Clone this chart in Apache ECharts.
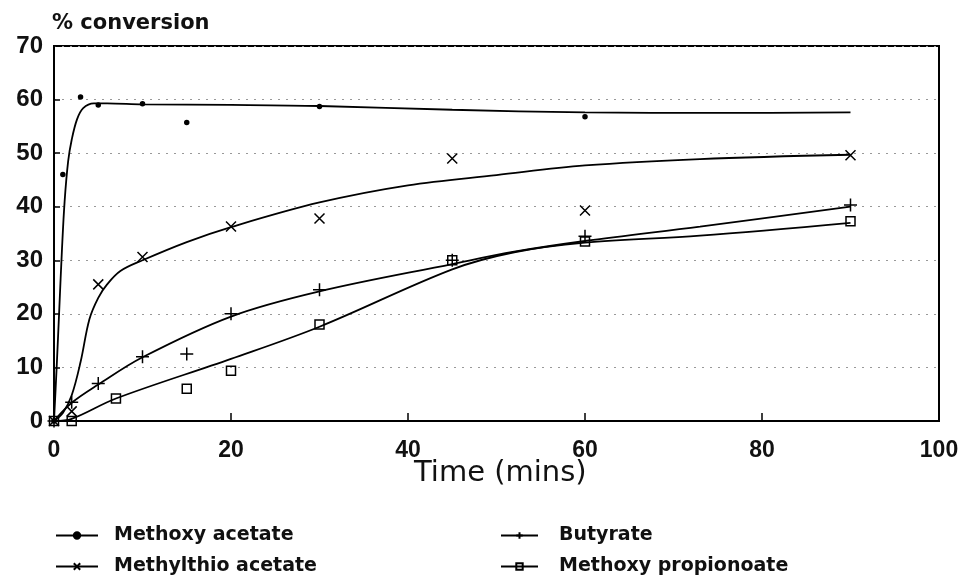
<!DOCTYPE html>
<html>
<head>
<meta charset="utf-8">
<script src="https://cdn.jsdelivr.net/npm/echarts@6/dist/echarts.min.js"></script>
<style>html,body{margin:0;padding:0;background:#fff}#c{width:963px;height:581px}</style>
</head>
<body>
<div id="c"></div>
<script>
// ---- data ----
const seriesNames = ['Methoxy acetate', 'Methylthio acetate', 'Butyrate', 'Methoxy propionoate'];
const yTicks = [0, 10, 20, 30, 40, 50, 60, 70];
const xTicks = [0, 20, 40, 60, 80, 100];

// measured points [time, % conversion]
const methoxyAcetatePts = [[0, 0], [1, 46], [3, 60.5], [5, 59], [10, 59.2], [15, 55.7], [30, 58.7], [60, 56.8]];
const methylthioPts = [[0, 0], [2, 1.8], [5, 25.5], [10, 30.6], [20, 36.3], [30, 37.8], [45, 49], [60, 39.3], [90, 49.6]];
const butyratePts = [[0, 0], [2, 3.5], [5, 7], [10, 12], [15, 12.5], [20, 20], [30, 24.5], [45, 30], [60, 34.5], [90, 40.3]];
const propionoatePts = [[0, 0], [2, 0], [7, 4.2], [15, 6], [20, 9.4], [30, 18], [45, 30], [60, 33.5], [90, 37.3]];

// fitted curves as traced on the picture
const methoxyAcetateFit = [[0, 0], [0.3, 10], [0.6, 21], [0.9, 32], [1.2, 41], [1.6, 48.5], [2, 52.5], [2.6, 56.3], [3.3, 58.4], [4.5, 59.3], [6, 59.3], [10, 59.1], [20, 59], [30, 58.8], [45, 58.1], [60, 57.6], [75, 57.5], [90, 57.6]];
const methylthioFit = [[0, 0], [1, 1.5], [2, 4.8], [3, 11], [4, 19], [5, 23], [6, 25.5], [7.5, 28], [10, 30], [15, 33.4], [20, 36.2], [30, 40.8], [40, 44], [50, 45.9], [60, 47.7], [73, 48.9], [90, 49.7]];
const butyrateFit = [[0, 0], [2, 3.4], [5, 6.8], [10, 11.9], [20, 19.5], [30, 24.2], [45, 29.3], [52, 31.6], [60, 33.6], [73, 36.3], [90, 40]];
const propionoateFit = [[0, 0], [2, 0.4], [7, 4.2], [20, 11.6], [30, 17.6], [45, 28.3], [52, 31.5], [60, 33.3], [73, 34.6], [90, 37]];

const symX = 'path://M0 0L10 10M10 0L0 10';
const symPlus = 'path://M5 0L5 10M0 5L10 5';

const chart = echarts.init(document.getElementById('c'));

function fitSeries(name, data, symbol, size, filled) {
  return {
    name: name, type: 'line', data: data, smooth: 0.35, showSymbol: false,
    symbol: symbol, symbolSize: size,
    lineStyle: { color: '#000', width: 1.8 },
    itemStyle: { color: filled ? '#000' : 'rgba(0,0,0,0)', borderColor: '#000', borderWidth: 1.5 },
    z: 2, animation: false
  };
}
function ptSeries(name, data, symbol, size, filled) {
  return {
    name: name, type: 'scatter', data: data, symbol: symbol, symbolSize: size,
    itemStyle: { color: filled ? '#000' : 'rgba(0,0,0,0)', borderColor: '#000', borderWidth: 1.5, opacity: 1 },
    z: 3, animation: false
  };
}

function legendFor(name, left, top, iconW, padL) {
  return {
    data: [name], orient: 'horizontal', left: left, top: top, itemWidth: iconW, itemHeight: 8, padding: 0,
    selectedMode: false,
    textStyle: { fontFamily: 'DejaVu Sans', fontWeight: 'bold', fontSize: 19, color: '#111', padding: [0, 0, 0, padL] }
  };
}

chart.setOption({
  animation: false,
  backgroundColor: '#fff',
  grid: { left: 54, right: 24, top: 46, bottom: 160, show: true, borderColor: '#000', borderWidth: 2 },
  xAxis: {
    type: 'value', min: 0, max: 100, interval: 20,
    axisLine: { show: true, lineStyle: { color: '#000', width: 2 } },
    axisTick: { show: true, inside: true, length: 8, lineStyle: { color: '#000', width: 1.5 } },
    axisLabel: { fontFamily: 'Liberation Sans', fontWeight: 'bold', fontSize: 23, color: '#111', margin: 18,
      formatter: v => xTicks.indexOf(v) >= 0 ? String(v) : '' },
    splitLine: { show: false }
  },
  yAxis: {
    type: 'value', min: 0, max: 70, interval: 10,
    axisLine: { show: true, lineStyle: { color: '#000', width: 2 } },
    axisTick: { show: true, inside: true, length: 6, lineStyle: { color: '#000', width: 1.5 } },
    axisLabel: { fontFamily: 'Liberation Sans', fontWeight: 'bold', fontSize: 24, color: '#111', margin: 11,
      formatter: v => yTicks.indexOf(v) >= 0 ? String(v) : '' },
    splitLine: { show: true, lineStyle: { color: '#999', width: 1, type: [2, 6] } }
  },
  legend: [
    legendFor(seriesNames[0], 55, 526, 42, 11),
    legendFor(seriesNames[1], 55, 557, 42, 11),
    legendFor(seriesNames[2], 500, 526, 37, 16),
    legendFor(seriesNames[3], 500, 557, 37, 16)
  ],
  graphic: [
    { type: 'text', left: 52, top: 13, style: { text: '% conversion', font: 'bold 21px "DejaVu Sans"', fill: '#111' } },
    { type: 'text', left: 414, top: 459, style: { text: 'Time (mins)', font: '29px "DejaVu Sans"', fill: '#111' } }
  ],
  series: [
    fitSeries(seriesNames[0], methoxyAcetateFit, 'circle', 4, true),
    fitSeries(seriesNames[1], methylthioFit, symX, 10, false),
    fitSeries(seriesNames[2], butyrateFit, symPlus, 12, false),
    fitSeries(seriesNames[3], propionoateFit, 'rect', 9, false),
    ptSeries(seriesNames[0], methoxyAcetatePts, 'circle', 4, true),
    ptSeries(seriesNames[1], methylthioPts, symX, 10, false),
    ptSeries(seriesNames[2], butyratePts, symPlus, 13, false),
    ptSeries(seriesNames[3], propionoatePts, 'rect', 9, false)
  ]
});
</script>
</body>
</html>
